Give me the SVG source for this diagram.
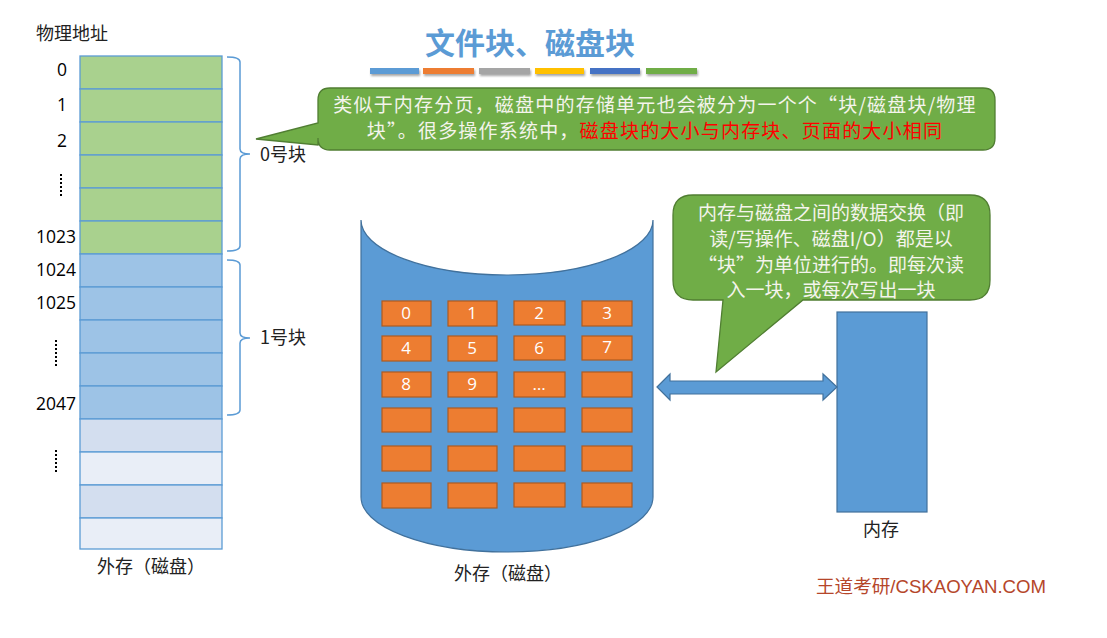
<svg xmlns="http://www.w3.org/2000/svg" width="1107" height="638" viewBox="0 0 1107 638">
<style>
.cjk{font-family:"Noto Sans CJK SC","Liberation Sans",sans-serif}
.num{font-family:"Open Sans","Liberation Sans",sans-serif;font-size:17.5px;fill:#000}
.lbl{font-family:"Noto Sans CJK SC",sans-serif;font-size:18px;fill:#222}
.cell{stroke:#5B9BD5;stroke-width:1.3}
.g{fill:#A9D18E}.b{fill:#9DC3E6}.l1{fill:#D3DEEF}.l2{fill:#E9EEF7}
.brace{fill:none;stroke:#5B9BD5;stroke-width:1.5}
.blk{fill:#ED7D31;stroke:#AE5A21;stroke-width:1.2}
.bt{font-family:"Open Sans","Liberation Sans",sans-serif;font-size:17px;fill:#fff;text-anchor:middle}
.call{fill:#70AD47;stroke:#507E32;stroke-width:1.3}
.ct{font-family:"Noto Sans CJK SC",sans-serif;font-size:19px;fill:#F4F4EC;text-anchor:middle}
.dots{stroke:#000;stroke-width:2;stroke-dasharray:2 2}
</style>
<defs>
<filter id="sh" x="-10%" y="-50%" width="120%" height="250%"><feDropShadow dx="1" dy="2" stdDeviation="1.2" flood-color="#000" flood-opacity="0.35"/></filter>
</defs>
<rect width="1107" height="638" fill="#fff"/>

<g id="title">
<text x="530" y="54" text-anchor="middle" class="cjk" font-size="30" font-weight="700" fill="#5B9BD5">文件块、磁盘块</text>
<g filter="url(#sh)">
<rect x="370" y="68" width="49" height="6" fill="#5B9BD5"/>
<rect x="423" y="68" width="51" height="6" fill="#ED7D31"/>
<rect x="479" y="68" width="51" height="6" fill="#A5A5A5"/>
<rect x="535" y="68" width="49" height="6" fill="#FFC000"/>
<rect x="590" y="68" width="50" height="6" fill="#4472C4"/>
<rect x="646" y="68" width="51" height="6" fill="#70AD47"/>
</g>
</g>

<g id="address-column">
<text x="36" y="40" class="lbl">物理地址</text>
<rect class="cell g" x="80" y="56" width="142" height="33"/>
<rect class="cell g" x="80" y="89" width="142" height="33"/>
<rect class="cell g" x="80" y="122" width="142" height="33"/>
<rect class="cell g" x="80" y="155" width="142" height="33"/>
<rect class="cell g" x="80" y="188" width="142" height="33"/>
<rect class="cell g" x="80" y="221" width="142" height="33"/>
<rect class="cell b" x="80" y="254" width="142" height="33"/>
<rect class="cell b" x="80" y="287" width="142" height="33"/>
<rect class="cell b" x="80" y="320" width="142" height="33"/>
<rect class="cell b" x="80" y="353" width="142" height="33"/>
<rect class="cell b" x="80" y="386" width="142" height="33"/>
<rect class="cell l1" x="80" y="419" width="142" height="33"/>
<rect class="cell l2" x="80" y="452" width="142" height="33"/>
<rect class="cell l1" x="80" y="485" width="142" height="33"/>
<rect class="cell l2" x="80" y="518" width="142" height="31"/>
<text x="67" y="76" class="num" text-anchor="end">0</text>
<text x="67" y="111" class="num" text-anchor="end">1</text>
<text x="67" y="147" class="num" text-anchor="end">2</text>
<line class="dots" x1="61" y1="174" x2="61" y2="198"/>
<text x="76" y="243" class="num" text-anchor="end">1023</text>
<text x="76" y="276" class="num" text-anchor="end">1024</text>
<text x="76" y="309" class="num" text-anchor="end">1025</text>
<line class="dots" x1="56" y1="340" x2="56" y2="366"/>
<text x="76" y="410" class="num" text-anchor="end">2047</text>
<line class="dots" x1="56" y1="450" x2="56" y2="474"/>
<text x="151" y="573" class="lbl" text-anchor="middle">外存（磁盘）</text>
</g>

<g id="block0">
<path class="brace" d="M227,57 Q240,57 240,62 L240,149 Q240,154 250,154 Q240,154 240,159 L240,246 Q240,251 227,251"/>
<text x="260" y="161" class="lbl" font-size="19">0号块</text>
</g>
<g id="block1">
<path class="brace" d="M227,260 Q240,260 240,265 L240,333 Q240,338 250,338 Q240,338 240,343 L240,410 Q240,415 227,415"/>
<text x="260" y="344" class="lbl" font-size="19">1号块</text>
</g>

<g id="callout1">
<path class="call" d="M330,88 L983,88 Q995,88 995,100 L995,138 Q995,150 983,150 L330,150 Q318,150 318,138 L318,145 L318,145 L256,139 L318,123 L318,100 Q318,88 330,88 Z"/>
<text x="655" y="112" class="ct" letter-spacing="1.2">类似于内存分页，磁盘中的存储单元也会被分为一个个“块/磁盘块/物理</text>
<text x="655" y="138" class="ct" letter-spacing="1.2">块”。很多操作系统中，<tspan fill="#FF0000">磁盘块的大小与内存块、页面的大小相同</tspan></text>
</g>

<g id="disk">
<path d="M361,220 A146,55 0 0 0 653,220 L653,497 A146,55 0 0 1 361,497 Z" fill="#5B9BD5" stroke="#41719C" stroke-width="1.2"/>
<rect class="blk" x="382" y="301" width="49" height="25"/>
<rect class="blk" x="448" y="301" width="49" height="25"/>
<rect class="blk" x="514" y="301" width="51" height="24"/>
<rect class="blk" x="582" y="301" width="50" height="25"/>
<rect class="blk" x="382" y="336" width="49" height="25"/>
<rect class="blk" x="448" y="336" width="49" height="25"/>
<rect class="blk" x="514" y="336" width="51" height="24"/>
<rect class="blk" x="582" y="336" width="50" height="24"/>
<rect class="blk" x="382" y="372" width="49" height="25"/>
<rect class="blk" x="448" y="372" width="49" height="25"/>
<rect class="blk" x="514" y="372" width="51" height="25"/>
<rect class="blk" x="582" y="372" width="50" height="25"/>
<rect class="blk" x="382" y="408" width="49" height="24"/>
<rect class="blk" x="448" y="408" width="49" height="24"/>
<rect class="blk" x="514" y="408" width="51" height="24"/>
<rect class="blk" x="582" y="408" width="50" height="24"/>
<rect class="blk" x="382" y="446" width="49" height="25"/>
<rect class="blk" x="448" y="446" width="49" height="25"/>
<rect class="blk" x="514" y="446" width="51" height="25"/>
<rect class="blk" x="582" y="446" width="50" height="25"/>
<rect class="blk" x="382" y="483" width="49" height="25"/>
<rect class="blk" x="448" y="483" width="49" height="25"/>
<rect class="blk" x="514" y="483" width="51" height="24"/>
<rect class="blk" x="582" y="483" width="50" height="24"/>
<text x="406" y="319" class="bt">0</text>
<text x="472" y="319" class="bt">1</text>
<text x="539" y="319" class="bt">2</text>
<text x="607" y="319" class="bt">3</text>
<text x="406" y="354" class="bt">4</text>
<text x="472" y="354" class="bt">5</text>
<text x="539" y="354" class="bt">6</text>
<text x="607" y="353" class="bt">7</text>
<text x="406" y="390" class="bt">8</text>
<text x="472" y="390" class="bt">9</text>
<text x="539" y="390" class="bt">…</text>
<text x="508" y="580" class="lbl" text-anchor="middle">外存（磁盘）</text>
</g>

<g id="callout2">
<path class="call" d="M693,195 L970,195 Q990,195 990,215 L990,280 Q990,300 970,300 L803,300 L716,372 L723,300 L693,300 Q673,300 673,280 L673,215 Q673,195 693,195 Z"/>
<text x="831" y="220" class="ct">内存与磁盘之间的数据交换（即</text>
<text x="831" y="246" class="ct">读/写操作、磁盘I/O）都是以</text>
<text x="831" y="272" class="ct">“块”为单位进行的。即每次读</text>
<text x="831" y="297" class="ct">入一块，或每次写出一块</text>
</g>

<g id="memory">
<rect x="837" y="312" width="90" height="200" fill="#5B9BD5" stroke="#41719C" stroke-width="1.2"/>
<text x="881" y="536" class="lbl" text-anchor="middle">内存</text>
</g>

<g id="connectors">
<path d="M657,387 L670,374 L670,381 L823,381 L823,374 L837,387 L823,400 L823,394 L670,394 L670,400 Z" fill="#5B9BD5" stroke="#41719C" stroke-width="1.2"/>
</g>

<g id="watermark">
<text x="816" y="593" font-family="Liberation Sans,Noto Sans CJK SC,sans-serif" font-size="18" textLength="230" lengthAdjust="spacingAndGlyphs" fill="#B5462A">王道考研/CSKAOYAN.COM</text>
</g>
</svg>
